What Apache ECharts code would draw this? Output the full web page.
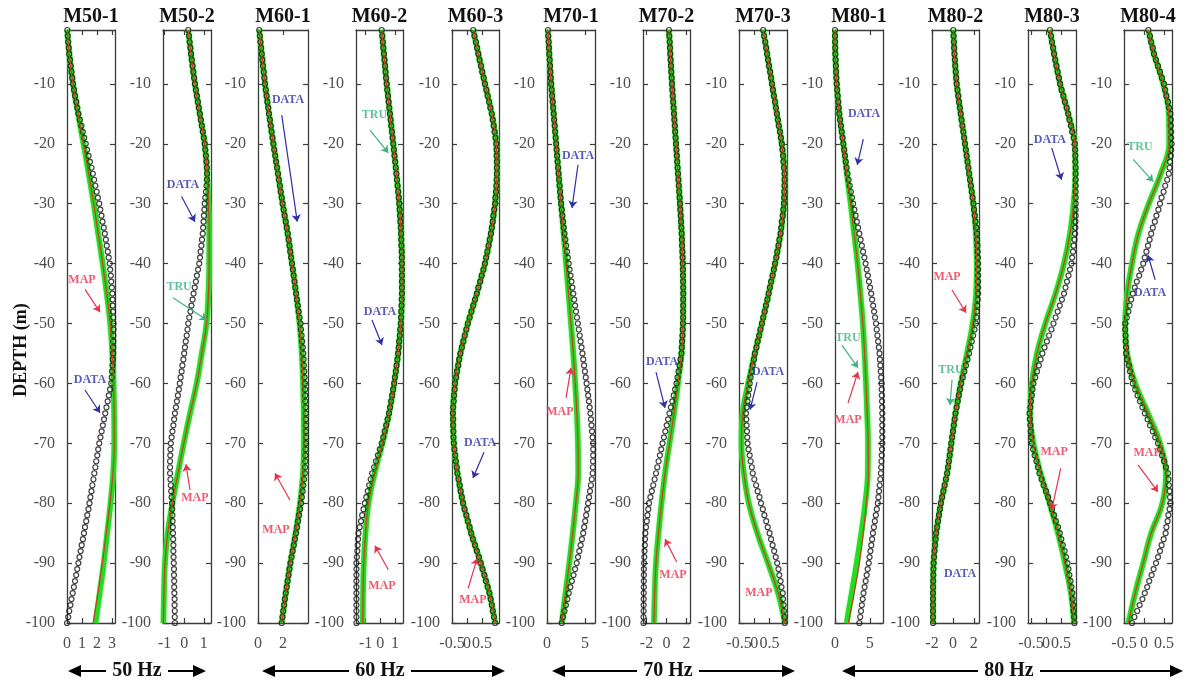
<!DOCTYPE html>
<html>
<head>
<meta charset="utf-8">
<title>Depth profiles</title>
<script src="https://cdn.jsdelivr.net/npm/echarts@6/dist/echarts.min.js"></script>
<style>
  html, body { margin: 0; padding: 0; background: #fff; }
  #chart { width: 1193px; height: 686px; }
</style>
</head>
<body>
<div id="chart"></div>
<script>
// panel names and x ranges
const panelNames = ['M50-1', 'M50-2', 'M60-1', 'M60-2', 'M60-3', 'M70-1', 'M70-2', 'M70-3', 'M80-1', 'M80-2', 'M80-3', 'M80-4']
const xMin = [0, -1.08, 0, -1.65, -0.5, 0, -2.35, -0.5, 0, -2, -0.6, -0.5]
const xMax = [3.2, 1.37, 4, 1.55, 1.07, 6.3, 2.35, 1.07, 6.9, 2.5, 1.0, 0.7]
const xTicks = [[0, 1, 2, 3], [-1, 0, 1], [0, 2], [-1, 0, 1], [-0.5, 0, 0.5], [0, 5], [-2, 0, 2], [-0.5, 0, 0.5], [0, 5], [-2, 0, 2], [-0.5, 0, 0.5], [-0.5, 0, 0.5]]
const depthTicks = [-10, -20, -30, -40, -50, -60, -70, -80, -90, -100]

// depth of each DATA sample (m)
const depths = [-1, -2, -3, -4, -5, -6, -7, -8, -9, -10, -11, -12, -13, -14, -15, -16, -17, -18, -19, -20,
  -21, -22, -23, -24, -25, -26, -27, -28, -29, -30, -31, -32, -33, -34, -35, -36, -37, -38, -39, -40,
  -41, -42, -43, -44, -45, -46, -47, -48, -49, -50, -51, -52, -53, -54, -55, -56, -57, -58, -59, -60,
  -61, -62, -63, -64, -65, -66, -67, -68, -69, -70, -71, -72, -73, -74, -75, -76, -77, -78, -79, -80,
  -81, -82, -83, -84, -85, -86, -87, -88, -89, -90, -91, -92, -93, -94, -95, -96, -97, -98, -99, -100]
// depth of each TRU / MAP knot (m)
const truDepths = [-1, -5, -10, -15, -20, -25, -30, -35, -40, -45, -50, -55, -60, -65, -70, -75, -80, -85, -90, -95, -100]

// ---- DATA (circles) ----
const dataM50_1 = [0.02, 0.05, 0.08, 0.12, 0.15, 0.2, 0.25, 0.3, 0.35, 0.4,
  0.47, 0.54, 0.62, 0.69, 0.76, 0.86, 0.96, 1.05, 1.15, 1.25,
  1.34, 1.44, 1.53, 1.63, 1.72, 1.81, 1.89, 1.98, 2.06, 2.15,
  2.22, 2.3, 2.37, 2.45, 2.52, 2.59, 2.65, 2.72, 2.78, 2.85,
  2.88, 2.92, 2.95, 2.99, 3.02, 3.04, 3.05, 3.07, 3.08, 3.1,
  3.1, 3.09, 3.09, 3.08, 3.08, 3.05, 3.03, 3.0, 2.98, 2.95,
  2.87, 2.79, 2.71, 2.63, 2.55, 2.47, 2.39, 2.31, 2.23, 2.15,
  2.08, 2.02, 1.95, 1.89, 1.82, 1.76, 1.69, 1.63, 1.56, 1.5,
  1.43, 1.35, 1.28, 1.2, 1.13, 1.06, 0.98, 0.91, 0.83, 0.76,
  0.68, 0.61, 0.53, 0.46, 0.38, 0.3, 0.23, 0.15, 0.08, 0.0]
const dataM50_2 = [0.21, 0.25, 0.28, 0.32, 0.35, 0.39, 0.43, 0.47, 0.51, 0.55,
  0.6, 0.65, 0.7, 0.75, 0.8, 0.85, 0.9, 0.95, 1.0, 1.05,
  1.08, 1.11, 1.14, 1.16, 1.17, 1.16, 1.14, 1.11, 1.08, 1.05,
  1.03, 1.01, 0.99, 0.97, 0.95, 0.91, 0.88, 0.84, 0.81, 0.77,
  0.71, 0.65, 0.6, 0.54, 0.48, 0.43, 0.37, 0.32, 0.26, 0.21,
  0.17, 0.13, 0.08, 0.04, 0.0, -0.04, -0.09, -0.13, -0.18, -0.22,
  -0.27, -0.32, -0.37, -0.42, -0.47, -0.51, -0.55, -0.6, -0.64, -0.68,
  -0.7, -0.71, -0.72, -0.72, -0.72, -0.7, -0.68, -0.66, -0.64, -0.62,
  -0.61, -0.6, -0.59, -0.58, -0.57, -0.56, -0.55, -0.55, -0.54, -0.53,
  -0.52, -0.52, -0.51, -0.51, -0.5, -0.49, -0.49, -0.48, -0.48, -0.47]
const dataM60_1 = [0.1, 0.15, 0.2, 0.25, 0.3, 0.35, 0.4, 0.46, 0.51, 0.56,
  0.62, 0.69, 0.75, 0.82, 0.88, 0.95, 1.02, 1.09, 1.16, 1.23,
  1.3, 1.38, 1.45, 1.53, 1.6, 1.67, 1.75, 1.82, 1.9, 1.97,
  2.05, 2.13, 2.22, 2.3, 2.38, 2.45, 2.52, 2.58, 2.65, 2.72,
  2.79, 2.85, 2.92, 2.98, 3.05, 3.12, 3.19, 3.26, 3.33, 3.4,
  3.44, 3.49, 3.53, 3.58, 3.62, 3.65, 3.67, 3.7, 3.72, 3.75,
  3.76, 3.78, 3.79, 3.81, 3.82, 3.82, 3.83, 3.83, 3.84, 3.84,
  3.82, 3.8, 3.79, 3.77, 3.75, 3.69, 3.63, 3.57, 3.51, 3.45,
  3.37, 3.29, 3.21, 3.13, 3.05, 2.96, 2.87, 2.78, 2.69, 2.6,
  2.52, 2.45, 2.37, 2.3, 2.22, 2.15, 2.09, 2.02, 1.96, 1.89]
const dataM60_2 = [0.1, 0.14, 0.18, 0.21, 0.25, 0.29, 0.33, 0.36, 0.4, 0.44,
  0.48, 0.53, 0.57, 0.62, 0.66, 0.71, 0.75, 0.8, 0.84, 0.89,
  0.93, 0.97, 1.02, 1.06, 1.1, 1.14, 1.18, 1.22, 1.26, 1.3,
  1.32, 1.35, 1.37, 1.4, 1.42, 1.43, 1.44, 1.46, 1.47, 1.48,
  1.48, 1.48, 1.48, 1.48, 1.48, 1.46, 1.45, 1.43, 1.42, 1.4,
  1.36, 1.33, 1.29, 1.26, 1.22, 1.17, 1.11, 1.06, 1.0, 0.95,
  0.88, 0.81, 0.74, 0.67, 0.6, 0.5, 0.4, 0.3, 0.2, 0.1,
  -0.03, -0.16, -0.29, -0.42, -0.55, -0.65, -0.75, -0.85, -0.95, -1.05,
  -1.14, -1.23, -1.31, -1.4, -1.48, -1.51, -1.54, -1.56, -1.59, -1.62,
  -1.62, -1.62, -1.62, -1.62, -1.62, -1.62, -1.62, -1.62, -1.62, -1.62]
const dataM60_3 = [0.21, 0.25, 0.3, 0.34, 0.38, 0.42, 0.47, 0.51, 0.56, 0.6,
  0.65, 0.69, 0.74, 0.78, 0.83, 0.86, 0.89, 0.92, 0.95, 0.98,
  0.99, 0.99, 1.0, 1.0, 1.0, 0.99, 0.98, 0.97, 0.95, 0.94,
  0.91, 0.88, 0.86, 0.83, 0.8, 0.76, 0.72, 0.68, 0.64, 0.6,
  0.55, 0.49, 0.44, 0.38, 0.33, 0.27, 0.21, 0.15, 0.09, 0.03,
  -0.02, -0.07, -0.12, -0.17, -0.22, -0.26, -0.29, -0.33, -0.36, -0.4,
  -0.41, -0.43, -0.44, -0.46, -0.47, -0.46, -0.46, -0.45, -0.45, -0.44,
  -0.42, -0.39, -0.37, -0.34, -0.32, -0.28, -0.24, -0.21, -0.17, -0.13,
  -0.08, -0.02, 0.03, 0.09, 0.14, 0.2, 0.27, 0.33, 0.4, 0.46,
  0.52, 0.58, 0.63, 0.69, 0.75, 0.79, 0.83, 0.86, 0.9, 0.94]
const dataM70_1 = [0.13, 0.17, 0.22, 0.26, 0.3, 0.35, 0.4, 0.45, 0.5, 0.55,
  0.62, 0.68, 0.75, 0.81, 0.88, 0.94, 1.01, 1.07, 1.14, 1.2,
  1.26, 1.33, 1.39, 1.46, 1.52, 1.59, 1.65, 1.72, 1.78, 1.85,
  1.94, 2.03, 2.12, 2.21, 2.3, 2.41, 2.52, 2.63, 2.74, 2.85,
  2.97, 3.09, 3.21, 3.33, 3.45, 3.57, 3.69, 3.81, 3.93, 4.05,
  4.17, 4.29, 4.41, 4.53, 4.65, 4.76, 4.87, 4.98, 5.09, 5.2,
  5.3, 5.4, 5.5, 5.6, 5.7, 5.77, 5.84, 5.91, 5.98, 6.05,
  6.06, 6.06, 6.04, 6.02, 6.0, 5.88, 5.76, 5.64, 5.52, 5.4,
  5.27, 5.14, 5.01, 4.88, 4.75, 4.58, 4.41, 4.24, 4.07, 3.9,
  3.69, 3.48, 3.27, 3.06, 2.85, 2.67, 2.48, 2.3, 2.11, 1.93]
const dataM70_2 = [0.25, 0.28, 0.32, 0.35, 0.38, 0.41, 0.45, 0.48, 0.52, 0.55,
  0.59, 0.63, 0.67, 0.71, 0.75, 0.79, 0.83, 0.87, 0.91, 0.95,
  0.99, 1.03, 1.07, 1.11, 1.15, 1.19, 1.23, 1.27, 1.31, 1.35,
  1.38, 1.42, 1.45, 1.49, 1.52, 1.54, 1.56, 1.59, 1.61, 1.63,
  1.64, 1.65, 1.66, 1.67, 1.68, 1.67, 1.67, 1.66, 1.66, 1.65,
  1.62, 1.59, 1.56, 1.53, 1.5, 1.4, 1.3, 1.2, 1.1, 1.0,
  0.86, 0.72, 0.58, 0.44, 0.3, 0.16, 0.02, -0.12, -0.26, -0.4,
  -0.53, -0.66, -0.79, -0.92, -1.05, -1.19, -1.33, -1.47, -1.61, -1.75,
  -1.82, -1.9, -1.97, -2.05, -2.12, -2.15, -2.17, -2.2, -2.22, -2.25,
  -2.26, -2.26, -2.27, -2.27, -2.28, -2.28, -2.29, -2.29, -2.3, -2.3]
const dataM70_3 = [0.29, 0.32, 0.36, 0.39, 0.42, 0.45, 0.48, 0.52, 0.55, 0.58,
  0.61, 0.64, 0.68, 0.71, 0.74, 0.77, 0.8, 0.84, 0.87, 0.9,
  0.92, 0.94, 0.95, 0.97, 0.99, 0.99, 0.99, 0.98, 0.98, 0.97,
  0.95, 0.93, 0.9, 0.88, 0.86, 0.82, 0.79, 0.75, 0.72, 0.68,
  0.64, 0.6, 0.55, 0.51, 0.47, 0.43, 0.38, 0.34, 0.29, 0.25,
  0.2, 0.16, 0.11, 0.07, 0.02, -0.01, -0.05, -0.08, -0.12, -0.15,
  -0.17, -0.2, -0.22, -0.25, -0.27, -0.26, -0.25, -0.24, -0.23, -0.22,
  -0.19, -0.15, -0.12, -0.08, -0.05, 0.0, 0.06, 0.11, 0.17, 0.22,
  0.28, 0.33, 0.39, 0.44, 0.5, 0.55, 0.6, 0.65, 0.7, 0.75,
  0.79, 0.82, 0.86, 0.89, 0.93, 0.94, 0.96, 0.97, 0.99, 1.0]
const dataM80_1 = [0.0, 0.01, 0.02, 0.04, 0.05, 0.09, 0.13, 0.16, 0.2, 0.24,
  0.32, 0.39, 0.47, 0.54, 0.62, 0.74, 0.85, 0.97, 1.08, 1.2,
  1.32, 1.44, 1.56, 1.68, 1.8, 1.96, 2.12, 2.28, 2.44, 2.6,
  2.78, 2.96, 3.14, 3.32, 3.5, 3.68, 3.86, 4.04, 4.22, 4.4,
  4.56, 4.72, 4.88, 5.04, 5.2, 5.34, 5.48, 5.62, 5.76, 5.9,
  6.0, 6.1, 6.2, 6.3, 6.4, 6.46, 6.52, 6.58, 6.64, 6.7,
  6.72, 6.74, 6.76, 6.78, 6.8, 6.8, 6.8, 6.8, 6.8, 6.8,
  6.76, 6.72, 6.68, 6.64, 6.6, 6.51, 6.42, 6.33, 6.24, 6.15,
  6.01, 5.87, 5.73, 5.59, 5.45, 5.33, 5.21, 5.09, 4.97, 4.85,
  4.7, 4.55, 4.4, 4.25, 4.1, 3.98, 3.86, 3.74, 3.62, 3.5]
const dataM80_2 = [0.04, 0.07, 0.1, 0.12, 0.15, 0.19, 0.23, 0.28, 0.32, 0.36,
  0.44, 0.52, 0.59, 0.67, 0.75, 0.83, 0.91, 1.0, 1.08, 1.16,
  1.24, 1.32, 1.4, 1.48, 1.56, 1.64, 1.72, 1.8, 1.88, 1.96,
  2.03, 2.1, 2.17, 2.24, 2.3, 2.32, 2.35, 2.37, 2.4, 2.42,
  2.42, 2.42, 2.42, 2.42, 2.42, 2.38, 2.33, 2.29, 2.24, 2.2,
  2.07, 1.94, 1.81, 1.68, 1.55, 1.4, 1.25, 1.1, 0.95, 0.8,
  0.69, 0.58, 0.47, 0.36, 0.25, 0.17, 0.09, 0.01, -0.07, -0.15,
  -0.23, -0.31, -0.39, -0.47, -0.55, -0.67, -0.79, -0.91, -1.03, -1.15,
  -1.24, -1.33, -1.42, -1.51, -1.6, -1.65, -1.7, -1.75, -1.8, -1.85,
  -1.86, -1.87, -1.88, -1.89, -1.9, -1.9, -1.9, -1.9, -1.9, -1.9]
const dataM80_3 = [0.13, 0.17, 0.2, 0.24, 0.27, 0.31, 0.35, 0.39, 0.43, 0.47,
  0.52, 0.58, 0.63, 0.69, 0.74, 0.78, 0.83, 0.87, 0.92, 0.96,
  0.97, 0.98, 0.98, 0.99, 0.99, 0.99, 0.99, 0.99, 0.99, 0.99,
  0.99, 0.99, 0.98, 0.98, 0.97, 0.95, 0.92, 0.9, 0.87, 0.85,
  0.8, 0.75, 0.7, 0.65, 0.6, 0.53, 0.46, 0.39, 0.32, 0.25,
  0.18, 0.1, 0.03, -0.05, -0.12, -0.18, -0.24, -0.3, -0.36, -0.42,
  -0.45, -0.47, -0.5, -0.52, -0.55, -0.54, -0.52, -0.51, -0.49, -0.48,
  -0.43, -0.38, -0.32, -0.27, -0.22, -0.15, -0.08, 0.0, 0.07, 0.14,
  0.2, 0.27, 0.33, 0.4, 0.46, 0.51, 0.56, 0.62, 0.67, 0.72,
  0.75, 0.78, 0.82, 0.85, 0.88, 0.89, 0.91, 0.92, 0.94, 0.95]
const dataM80_4 = [0.11, 0.15, 0.18, 0.22, 0.25, 0.3, 0.35, 0.4, 0.45, 0.5,
  0.53, 0.56, 0.6, 0.63, 0.66, 0.67, 0.67, 0.68, 0.68, 0.69,
  0.68, 0.67, 0.65, 0.64, 0.62, 0.58, 0.53, 0.49, 0.44, 0.4,
  0.36, 0.31, 0.27, 0.22, 0.18, 0.14, 0.1, 0.06, 0.02, -0.02,
  -0.07, -0.12, -0.18, -0.23, -0.28, -0.32, -0.36, -0.39, -0.43, -0.47,
  -0.47, -0.46, -0.46, -0.45, -0.45, -0.42, -0.38, -0.35, -0.31, -0.28,
  -0.22, -0.16, -0.1, -0.04, 0.02, 0.09, 0.15, 0.22, 0.28, 0.35,
  0.4, 0.45, 0.5, 0.55, 0.6, 0.61, 0.62, 0.64, 0.65, 0.66,
  0.64, 0.61, 0.59, 0.56, 0.54, 0.49, 0.44, 0.4, 0.35, 0.3,
  0.24, 0.19, 0.13, 0.08, 0.02, -0.04, -0.11, -0.17, -0.24, -0.3]

// ---- TRU (green) ----
const truM50_1 = [0.02, 0.15, 0.4, 0.74, 1.1, 1.45, 1.78, 2.08, 2.38, 2.65, 2.88, 3.02, 3.1, 3.14, 3.15, 3.08, 2.9, 2.68, 2.45, 2.18, 1.9]
const truM50_2 = [0.21, 0.35, 0.55, 0.8, 1.05, 1.17, 1.24, 1.28, 1.28, 1.24, 1.14, 0.9, 0.64, 0.3, -0.02, -0.32, -0.6, -0.84, -0.98, -1.03, -1.06]
const truM60_1 = [0.1, 0.3, 0.56, 0.88, 1.23, 1.6, 1.97, 2.38, 2.72, 3.05, 3.32, 3.5, 3.6, 3.66, 3.67, 3.6, 3.36, 3.0, 2.58, 2.22, 1.89]
const truM60_2 = [0.1, 0.25, 0.44, 0.66, 0.89, 1.1, 1.3, 1.42, 1.48, 1.48, 1.4, 1.22, 0.95, 0.6, 0.15, -0.38, -0.8, -1.0, -1.12, -1.17, -1.19]
const truM60_3 = [0.21, 0.38, 0.6, 0.83, 0.98, 1.0, 0.94, 0.8, 0.6, 0.33, 0.03, -0.22, -0.4, -0.47, -0.44, -0.32, -0.13, 0.14, 0.46, 0.75, 0.94]
const truM70_1 = [0.13, 0.3, 0.55, 0.88, 1.2, 1.52, 1.85, 2.18, 2.5, 2.83, 3.15, 3.45, 3.7, 3.92, 4.06, 4.1, 3.78, 3.38, 2.93, 2.43, 1.93]
const truM70_2 = [0.25, 0.38, 0.55, 0.75, 0.95, 1.15, 1.35, 1.52, 1.63, 1.68, 1.65, 1.5, 1.15, 0.75, 0.3, -0.15, -0.5, -0.8, -1.05, -1.18, -1.25]
const truM70_3 = [0.29, 0.42, 0.58, 0.74, 0.9, 0.99, 0.97, 0.86, 0.68, 0.47, 0.25, 0.02, -0.2, -0.38, -0.42, -0.34, -0.18, 0.1, 0.45, 0.78, 1.0]
const truM80_1 = [0.0, 0.05, 0.24, 0.62, 1.2, 1.7, 2.25, 2.75, 3.25, 3.65, 4.0, 4.25, 4.45, 4.62, 4.75, 4.72, 4.35, 3.78, 3.12, 2.4, 1.68]
const truM80_2 = [0.04, 0.15, 0.36, 0.75, 1.16, 1.56, 1.96, 2.2, 2.28, 2.22, 1.9, 1.35, 0.75, 0.25, -0.15, -0.55, -1.15, -1.6, -1.85, -1.9, -1.9]
const truM80_3 = [0.13, 0.27, 0.47, 0.74, 0.96, 0.98, 0.92, 0.8, 0.6, 0.32, -0.02, -0.3, -0.47, -0.53, -0.42, -0.18, 0.12, 0.4, 0.63, 0.83, 0.93]
const truM80_4 = [0.11, 0.25, 0.48, 0.62, 0.63, 0.42, 0.12, -0.14, -0.3, -0.42, -0.47, -0.42, -0.22, 0.1, 0.4, 0.55, 0.46, 0.18, -0.02, -0.22, -0.39]

// ---- MAP (red) ----
const mapM50_1 = [0.02, 0.15, 0.4, 0.74, 1.1, 1.45, 1.78, 2.08, 2.38, 2.65, 2.88, 3.02, 3.1, 3.14, 3.15, 3.06, 2.86, 2.62, 2.36, 2.06, 1.75]
const mapM50_2 = [0.21, 0.35, 0.55, 0.8, 1.05, 1.17, 1.24, 1.28, 1.28, 1.24, 1.14, 0.9, 0.64, 0.3, -0.02, -0.32, -0.6, -0.84, -0.98, -1.03, -1.06]
const mapM60_1 = [0.1, 0.3, 0.56, 0.88, 1.23, 1.6, 1.97, 2.38, 2.72, 3.05, 3.32, 3.5, 3.6, 3.66, 3.67, 3.6, 3.36, 3.0, 2.58, 2.22, 1.89]
const mapM60_2 = [0.1, 0.25, 0.44, 0.66, 0.89, 1.1, 1.3, 1.42, 1.48, 1.48, 1.4, 1.22, 0.95, 0.6, 0.15, -0.38, -0.8, -1.0, -1.12, -1.17, -1.19]
const mapM60_3 = [0.21, 0.38, 0.6, 0.83, 0.98, 1.0, 0.94, 0.8, 0.6, 0.33, 0.03, -0.22, -0.4, -0.47, -0.44, -0.32, -0.13, 0.14, 0.46, 0.75, 0.94]
const mapM70_1 = [0.13, 0.3, 0.55, 0.88, 1.2, 1.52, 1.85, 2.18, 2.5, 2.83, 3.15, 3.45, 3.7, 3.92, 4.06, 4.1, 3.78, 3.38, 2.93, 2.43, 1.93]
const mapM70_2 = [0.25, 0.38, 0.55, 0.75, 0.95, 1.15, 1.35, 1.52, 1.63, 1.68, 1.65, 1.5, 1.15, 0.75, 0.3, -0.15, -0.5, -0.8, -1.05, -1.18, -1.25]
const mapM70_3 = [0.29, 0.42, 0.58, 0.74, 0.9, 0.99, 0.97, 0.86, 0.68, 0.47, 0.25, 0.02, -0.2, -0.38, -0.42, -0.34, -0.18, 0.1, 0.45, 0.78, 1.0]
const mapM80_1 = [0.0, 0.05, 0.24, 0.62, 1.2, 1.7, 2.25, 2.75, 3.25, 3.65, 4.0, 4.25, 4.45, 4.62, 4.78, 4.8, 4.5, 4.05, 3.5, 2.75, 1.92]
const mapM80_2 = [0.04, 0.15, 0.36, 0.75, 1.16, 1.56, 1.96, 2.2, 2.28, 2.22, 1.9, 1.35, 0.75, 0.25, -0.15, -0.55, -1.15, -1.6, -1.85, -1.9, -1.9]
const mapM80_3 = [0.13, 0.27, 0.47, 0.74, 0.96, 0.98, 0.92, 0.8, 0.6, 0.32, -0.02, -0.3, -0.47, -0.53, -0.42, -0.18, 0.12, 0.4, 0.63, 0.83, 0.93]
const mapM80_4 = [0.11, 0.25, 0.48, 0.62, 0.63, 0.42, 0.12, -0.14, -0.3, -0.42, -0.47, -0.42, -0.22, 0.1, 0.4, 0.55, 0.46, 0.18, -0.02, -0.22, -0.39]

const dataSets = [dataM50_1, dataM50_2, dataM60_1, dataM60_2, dataM60_3, dataM70_1, dataM70_2, dataM70_3, dataM80_1, dataM80_2, dataM80_3, dataM80_4]
const truSets = [truM50_1, truM50_2, truM60_1, truM60_2, truM60_3, truM70_1, truM70_2, truM70_3, truM80_1, truM80_2, truM80_3, truM80_4]
const mapSets = [mapM50_1, mapM50_2, mapM60_1, mapM60_2, mapM60_3, mapM70_1, mapM70_2, mapM70_3, mapM80_1, mapM80_2, mapM80_3, mapM80_4]

// annotations: [panel, text, label x, label depth, arrow from x, from depth, arrow to x, to depth]
const notes = [
  [0, 'MAP', 1.0, -42.7, 1.2, -44.3, 2.2, -48.1],
  [0, 'DATA', 1.53, -59.4, 1.2, -61.1, 2.2, -64.9],
  [1, 'DATA', -0.06, -26.9, -0.13, -28.8, 0.55, -33.0],
  [1, 'TRU', -0.26, -43.9, -0.57, -45.7, 1.16, -49.4],
  [1, 'MAP', 0.55, -79.1, 0.3, -77.8, 0.09, -73.5],
  [2, 'DATA', 2.4, -12.7, 1.9, -15.2, 3.14, -33.0],
  [2, 'MAP', 1.44, -84.5, 2.56, -79.5, 1.36, -75.0],
  [3, 'TRU', -0.39, -15.2, -0.7, -17.7, 0.55, -21.5],
  [3, 'DATA', -0.02, -48.1, -0.56, -49.4, 0.12, -53.6],
  [3, 'MAP', 0.12, -93.8, 0.55, -91.1, -0.36, -87.1],
  [4, 'DATA', 0.44, -69.9, 0.57, -71.5, 0.2, -75.8],
  [4, 'MAP', 0.2, -96.2, 0.04, -94.2, 0.34, -89.2],
  [5, 'DATA', 4.07, -22.0, 4.07, -23.5, 3.28, -30.7],
  [5, 'MAP', 1.7, -64.8, 2.5, -62.4, 3.15, -57.4],
  [6, 'DATA', -0.45, -56.4, -1.05, -58.1, -0.15, -64.1],
  [6, 'MAP', 0.65, -92.0, 1.02, -89.8, -0.15, -86.0],
  [7, 'DATA', 0.45, -58.1, 0.09, -59.8, -0.14, -64.4],
  [7, 'MAP', 0.15, -95.0],
  [8, 'DATA', 4.17, -15.0, 4.07, -19.2, 3.2, -23.5],
  [8, 'TRU', 1.87, -52.4, 1.0, -53.6, 3.3, -57.4],
  [8, 'MAP', 1.87, -66.1, 1.87, -63.3, 3.3, -58.1],
  [9, 'MAP', -0.56, -42.2, -0.08, -44.4, 1.26, -48.2],
  [9, 'TRU', -0.18, -57.8, -0.08, -59.4, -0.28, -63.6],
  [9, 'DATA', 0.68, -91.8],
  [10, 'DATA', 0.13, -19.4, 0.19, -20.7, 0.52, -26.0],
  [10, 'MAP', 0.27, -71.5, 0.49, -74.2, 0.19, -81.1],
  [11, 'TRU', -0.1, -20.5, -0.27, -22.6, 0.23, -26.3],
  [11, 'DATA', 0.15, -44.9, 0.28, -42.7, 0.1, -38.6],
  [11, 'MAP', 0.08, -71.6, -0.15, -73.6, 0.35, -78.1]
]
const noteColors = { DATA: '#2f2fa8', TRU: '#3db37e', MAP: '#e8324c' }

// frequency groups along the bottom
const bands = [
  { text: '50 Hz', from: 68, to: 206, center: 137 },
  { text: '60 Hz', from: 262, to: 505, center: 380 },
  { text: '70 Hz', from: 552, to: 795, center: 668 },
  { text: '80 Hz', from: 842, to: 1183, center: 1009 }
]

// layout
const panelLeft = [67, 163, 258, 356, 452, 547, 643, 739, 835, 932, 1028, 1124]
const panelWidth = [48, 48, 50, 47, 47, 48, 47, 48, 48, 47, 48, 48]
const TOP = 30
const HEIGHT = 593
const BOX = '#3c3c3c'
const SERIF = "'Liberation Serif', 'Times New Roman', serif"
const labelText = { color: '#4d4d4d', fontFamily: SERIF, fontSize: 16, interval: 0, hideOverlap: false, showMinLabel: true, showMaxLabel: true }

const grid = []
const xAxis = []
const yAxis = []
const series = []
const graphic = []

panelNames.forEach((name, i) => {
  grid.push({ left: panelLeft[i], top: TOP, width: panelWidth[i], height: HEIGHT })

  const ticks = xTicks[i]
  const ends = [ticks[0], ticks[ticks.length - 1]]
  const line = { show: true, onZero: false, lineStyle: { color: BOX, width: 1.3 } }
  const xBase = { gridIndex: i, type: 'value', min: xMin[i], max: xMax[i], axisLine: line, splitLine: { show: false },
    axisTick: { inside: true, length: 5, customValues: ticks, lineStyle: { color: BOX, width: 1.2 } } }
  xAxis.push({ ...xBase, position: 'bottom', axisLabel: { ...labelText, margin: 13, customValues: ends } })
  xAxis.push({ ...xBase, position: 'top', axisLabel: { show: false } })

  const yBase = { gridIndex: i, type: 'value', min: -100, max: -1, axisLine: line, splitLine: { show: false },
    axisTick: { inside: true, length: 5, customValues: depthTicks, lineStyle: { color: BOX, width: 1.2 } } }
  yAxis.push({ ...yBase, position: 'left', axisLabel: { ...labelText, margin: 12, customValues: depthTicks } })
  yAxis.push({ ...yBase, position: 'right', axisLabel: { show: false } })

  const ax = { xAxisIndex: 2 * i, yAxisIndex: 2 * i }

  series.push({
    ...ax, type: 'line', name: 'TRU', smooth: 0.4, symbol: 'none', z: 2,
    data: truDepths.map((d, k) => [truSets[i][k], d]),
    lineStyle: { color: '#22dd22', width: 5.5, shadowBlur: 2, shadowColor: 'rgba(90,255,90,0.8)' }
  })
  series.push({
    ...ax, type: 'scatter', name: 'DATA', symbol: 'circle', symbolSize: 5, z: 3,
    data: depths.map((d, k) => [dataSets[i][k], d]),
    itemStyle: { color: 'rgba(255,255,255,0)', borderColor: '#111', borderWidth: 1.2 }
  })
  series.push({
    ...ax, type: 'line', name: 'MAP', smooth: 0.4, symbol: 'none', z: 4,
    data: truDepths.map((d, k) => [mapSets[i][k], d]),
    lineStyle: { color: '#c9402a', width: 1.3 }
  })

  const mine = notes.filter(n => n[0] === i)
  series.push({
    ...ax, type: 'scatter', name: 'notes', symbolSize: 0, z: 6, silent: true,
    data: mine.map(n => ({ value: [n[2], n[3]], name: n[1], label: { color: noteColors[n[1]] } })),
    label: { show: true, position: 'inside', formatter: p => p.name, fontFamily: SERIF, fontSize: 12, fontWeight: 'bold' },
    markLine: {
      silent: true, symbol: ['none', 'arrow'], symbolSize: 7, label: { show: false },
      data: mine.filter(n => n.length > 4).map(n => [
        { coord: [n[4], n[5]], lineStyle: { color: noteColors[n[1]], width: 1.2, type: 'solid' } },
        { coord: [n[6], n[7]], lineStyle: { color: noteColors[n[1]], width: 1.2, type: 'solid' } }
      ])
    }
  })

  graphic.push({
    type: 'text', x: panelLeft[i] + panelWidth[i] / 2, y: 17,
    style: { text: name, font: 'bold 20px ' + SERIF, fill: '#111', align: 'center', verticalAlign: 'middle' }
  })
})

// inner tick labels sit on an overlay axis so that crowded labels are not dropped
panelNames.forEach((name, i) => {
  const inner = xTicks[i].slice(1, -1)
  if (!inner.length) return
  const g = grid.length
  grid.push({ left: panelLeft[i], top: TOP, width: panelWidth[i], height: HEIGHT })
  xAxis.push({ gridIndex: g, type: 'value', min: xMin[i], max: xMax[i], position: 'bottom',
    axisLine: { show: false, onZero: false }, axisTick: { show: false }, splitLine: { show: false },
    axisLabel: { ...labelText, margin: 13, customValues: inner } })
  yAxis.push({ gridIndex: g, type: 'value', min: -100, max: -1, show: false })
})

graphic.push({
  type: 'text', x: 21, y: 350, rotation: Math.PI / 2,
  style: { text: 'DEPTH (m)', font: 'bold 18px ' + SERIF, fill: '#111', align: 'center', verticalAlign: 'middle' }
})

bands.forEach(b => {
  const y = 671
  const half = 31
  graphic.push({ type: 'text', x: b.center, y: y, style: { text: b.text, font: 'bold 20px ' + SERIF, fill: '#111', align: 'center', verticalAlign: 'middle' } })
  graphic.push({ type: 'line', shape: { x1: b.from + 10, y1: y, x2: b.center - half, y2: y }, style: { stroke: '#000', lineWidth: 2 } })
  graphic.push({ type: 'line', shape: { x1: b.center + half, y1: y, x2: b.to - 10, y2: y }, style: { stroke: '#000', lineWidth: 2 } })
  graphic.push({ type: 'polygon', shape: { points: [[b.from, y], [b.from + 13, y - 6], [b.from + 13, y + 6]] }, style: { fill: '#000' } })
  graphic.push({ type: 'polygon', shape: { points: [[b.to, y], [b.to - 13, y - 6], [b.to - 13, y + 6]] }, style: { fill: '#000' } })
})

const chart = echarts.init(document.getElementById('chart'))
chart.setOption({
  animation: false,
  backgroundColor: '#fff',
  grid, xAxis, yAxis, series, graphic
})
window.addEventListener('resize', () => chart.resize())
</script>
</body>
</html>
